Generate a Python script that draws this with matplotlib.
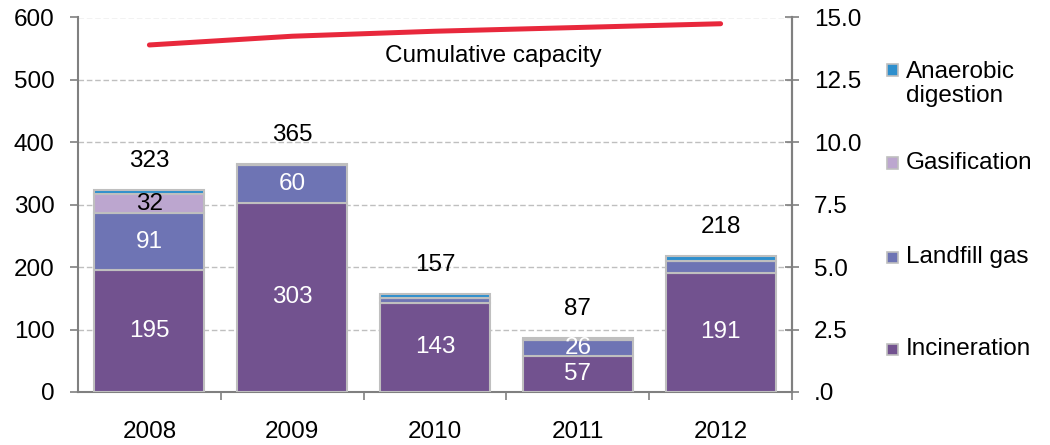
import matplotlib
matplotlib.use("Agg")
from matplotlib import pyplot as plt
from matplotlib.patches import Rectangle
from matplotlib.ticker import FuncFormatter
import numpy as np

plt.rcParams['font.family'] = ['Liberation Sans', 'DejaVu Sans']
FS = 17.5

# data
years = ['2008', '2009', '2010', '2011', '2012']
incineration = [195, 303, 143, 57, 191]
landfill_gas = [91, 60, 8, 26, 19]
gasification = [32, 0, 0, 0, 0]
anaerobic = [5, 2, 6, 4, 8]
cumulative = [13.9, 14.25, 14.45, 14.6, 14.75]

series = [('Incineration', incineration, '#72528F', 'white'),
          ('Landfill gas', landfill_gas, '#6E74B4', 'white'),
          ('Gasification', gasification, '#BCA6CF', 'black'),
          ('Anaerobic digestion', anaerobic, '#2E8FCD', 'white')]

W, H = 1050, 445
fig = plt.figure(figsize=(W / 100, H / 100), dpi=100)
ax = fig.add_axes([78 / W, (H - 392) / H, (792 - 78) / W, (392 - 17.5) / H])

x = np.arange(len(years))
bottom = np.zeros(len(years))
edge = '#BFBFBF'
for name, vals, col, txtcol in series:
    vals = np.array(vals, dtype=float)
    ax.bar(x, vals, 0.77, bottom=bottom, color=col, edgecolor=edge, linewidth=1.5, zorder=3)
    for i, v in enumerate(vals):
        if v >= 25:
            ax.text(x[i], bottom[i] + v / 2, '%d' % v, ha='center', va='center',
                    color=txtcol, fontsize=FS, zorder=5)
    bottom += vals

totals = bottom
for i, t in enumerate(totals):
    ax.annotate('%d' % t, (x[i], t), xytext=(0, 21), textcoords='offset points',
                ha='center', va='center', fontsize=FS, color='black')

ax.set_xlim(-0.5, len(years) - 0.5)
ax.set_ylim(0, 600)
ax.set_yticks(np.arange(0, 601, 100))
ax.yaxis.grid(True, color=edge, linestyle=(0, (4, 2)), linewidth=1, zorder=0)
ax.set_axisbelow(True)

ax.set_xticks(x)
ax.set_xticklabels(years)
ax.set_xticks(np.arange(len(years)) + 0.5, minor=True)
ax.tick_params(axis='x', which='major', length=0, pad=21, labelsize=FS)
ax.tick_params(axis='x', which='minor', length=6, width=1.2, color='#808080', direction='out')
ax.tick_params(axis='y', length=6, width=1.2, color='#808080', direction='out', pad=11, labelsize=FS)

ax.spines['top'].set_visible(False)
for s in ['left', 'bottom', 'right']:
    ax.spines[s].set_color('#808080')
    ax.spines[s].set_linewidth(1.5)

ax2 = ax.twinx()
ax2.plot(x, cumulative, color='#E8283C', linewidth=3.6, solid_capstyle='round', zorder=6)
ax2.set_ylim(0, 15)
ax2.set_yticks(np.arange(0, 15.1, 2.5))
ax2.yaxis.set_major_formatter(FuncFormatter(lambda v, p: '.0' if v == 0 else '%.1f' % v))
ax2.tick_params(axis='y', length=10, width=1.2, color='#808080', direction='inout', pad=11, labelsize=FS)
ax2.spines['top'].set_visible(False)
ax2.spines['right'].set_color('#808080')
ax2.spines['right'].set_linewidth(1.5)
ax2.spines['left'].set_visible(False)
ax2.spines['bottom'].set_visible(False)

fig.text(493 / W, 1 - 56 / H, 'Cumulative capacity', ha='center', va='center', fontsize=FS)

# legend on the right, top entry first
leg_y = [84, 163, 257, 349]
sq_y = [70, 163, 257, 349]
for (name, vals, col, txtcol), ty, sy in zip(series[::-1], leg_y, sq_y):
    label = 'Anaerobic\ndigestion' if name == 'Anaerobic digestion' else name
    fig.patches.append(Rectangle((887 / W, 1 - (sy + 5.5) / H), 11 / W, 11 / H,
                                 transform=fig.transFigure, facecolor=col,
                                 edgecolor=edge, linewidth=1.2))
    fig.text(906 / W, 1 - ty / H, label, ha='left', va='center', fontsize=FS, linespacing=1.15)

plt.savefig('out.png', dpi=100)
